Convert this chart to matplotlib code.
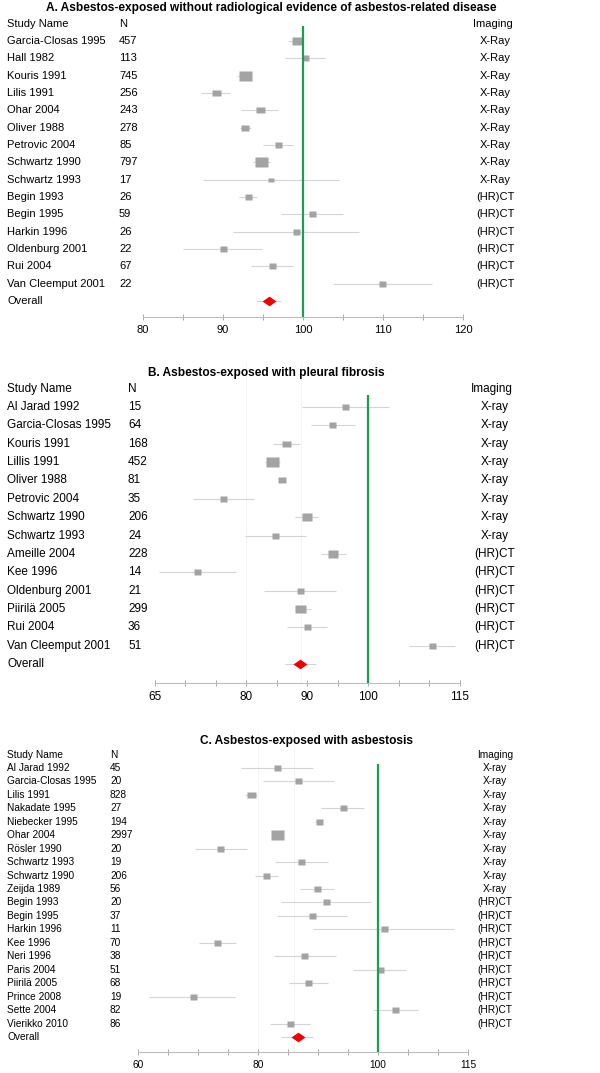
import matplotlib
matplotlib.use("Agg")
import matplotlib.pyplot as plt
from matplotlib.ticker import FixedLocator

plt.rcParams['font.family'] = ['Liberation Sans', 'DejaVu Sans']

# ---------- Panel A data ----------
a_names = ["Garcia-Closas 1995", "Hall 1982", "Kouris 1991", "Lilis 1991", "Ohar 2004",
           "Oliver 1988", "Petrovic 2004", "Schwartz 1990", "Schwartz 1993", "Begin 1993",
           "Begin 1995", "Harkin 1996", "Oldenburg 2001", "Rui 2004", "Van Cleemput 2001"]
a_n = [457, 113, 745, 256, 243, 278, 85, 797, 17, 26, 59, 26, 22, 67, 22]
a_imaging = ["X-Ray"] * 9 + ["(HR)CT"] * 6
a_est = [99.2, 100.2, 92.7, 89.1, 94.6, 92.8, 96.9, 94.8, 96.0, 93.1, 101.1, 99.1, 90.0, 96.1, 109.9]
a_lo = [98.1, 97.7, 91.8, 87.3, 92.3, 92.1, 95.0, 93.8, 87.5, 92.0, 97.3, 91.2, 85.0, 93.5, 103.7]
a_hi = [100.0, 102.7, 93.6, 90.9, 96.9, 93.5, 98.8, 95.9, 104.5, 94.3, 105.0, 107.0, 94.9, 98.7, 116.1]
a_weight = [10, 7, 13, 9, 9, 8, 7, 13, 6, 7, 7, 7, 7, 7, 7]
a_overall = (95.7, 94.1, 97.3)
a_ticks = [80, 90, 100, 110, 120]

# ---------- Panel B data ----------
b_names = ["Al Jarad 1992", "Garcia-Closas 1995", "Kouris 1991", "Lillis 1991", "Oliver 1988",
           "Petrovic 2004", "Schwartz 1990", "Schwartz 1993", "Ameille 2004", "Kee 1996",
           "Oldenburg 2001", "Piirilä 2005", "Rui 2004", "Van Cleemput 2001"]
b_n = [15, 64, 168, 452, 81, 35, 206, 24, 228, 14, 21, 299, 36, 51]
b_imaging = ["X-ray"] * 8 + ["(HR)CT"] * 6
b_est = [96.3, 94.1, 86.6, 84.2, 85.9, 76.3, 90.0, 84.7, 94.3, 72.0, 88.8, 88.9, 90.0, 110.5]
b_lo = [89.2, 90.7, 84.4, 83.1, 85.4, 71.3, 88.1, 79.8, 92.3, 65.7, 82.9, 88.0, 86.7, 106.8]
b_hi = [103.4, 97.8, 88.8, 85.5, 86.4, 81.3, 91.8, 89.9, 96.4, 78.3, 94.8, 90.7, 93.3, 114.2]
b_weight = [7, 7, 9, 13, 8, 7, 10, 7, 10, 7, 7, 11, 7, 7]
b_overall = (88.9, 86.4, 91.5)
b_ticks = [65, 80, 90, 100, 115]

# ---------- Panel C data ----------
c_names = ["Al Jarad 1992", "Garcia-Closas 1995", "Lilis 1991", "Nakadate 1995", "Niebecker 1995",
           "Ohar 2004", "Rösler 1990", "Schwartz 1993", "Schwartz 1990", "Zeijda 1989",
           "Begin 1993", "Begin 1995", "Harkin 1996", "Kee 1996", "Neri 1996", "Paris 2004",
           "Piirilä 2005", "Prince 2008", "Sette 2004", "Vierikko 2010"]
c_n = [45, 20, 828, 27, 194, 2997, 20, 19, 206, 56, 20, 37, 11, 70, 38, 51, 68, 19, 82, 86]
c_imaging = ["X-ray"] * 10 + ["(HR)CT"] * 10
c_est = [83.2, 86.7, 78.8, 94.1, 90.1, 83.1, 73.7, 87.2, 81.4, 89.8,
         91.3, 89.0, 101.0, 73.2, 87.7, 100.3, 88.4, 69.1, 102.9, 85.3]
c_lo = [77.2, 80.9, 77.8, 90.5, 89.5, 82.2, 69.5, 82.8, 79.5, 87.0,
        83.8, 83.1, 89.2, 70.2, 82.6, 95.9, 85.1, 61.8, 99.1, 82.0]
c_hi = [89.2, 92.6, 79.9, 97.7, 90.6, 84.2, 78.1, 91.6, 83.4, 92.7,
        98.8, 94.9, 112.7, 76.3, 93.0, 104.7, 91.7, 76.2, 106.6, 88.7]
c_weight = [7, 7, 9, 7, 7, 13, 7, 7, 7, 7, 7, 7, 7, 7, 7, 7, 7, 7, 7, 7]
c_overall = (86.6, 83.8, 89.2)
c_ticks = [60, 80, 100, 115]

W, H = 600, 1073
GREEN = '#1a9f4f'
RECT = [(-1, -0.72), (1, -0.72), (1, 0.72), (-1, 0.72), (-1, -0.72)]
DIAMOND = [(-1, 0), (0, -0.7), (1, 0), (0, 0.7), (-1, 0)]


def draw_panel(fig, title, names, ns, imaging, est, lo, hi, weight, overall, ticks,
               top_px, first_px, step_px, axis_px, ppu, x100_px, n_px, title_x, title_y,
               green_top, fs, tick_lo, tick_hi, faint=()):
    """One forest plot; the axes spans the full figure width so text columns sit in pixels."""
    ax = fig.add_axes([0, 1 - axis_px / H, 1, (axis_px - top_px) / H])
    ax.set_xlim(100 - x100_px / ppu, 100 + (W - x100_px) / ppu)

    def row(px):
        return (px - first_px) / step_px

    ax.set_ylim(row(axis_px), row(top_px))
    rows = list(range(len(names)))
    trans = ax.get_yaxis_transform()
    txt = dict(transform=trans, fontsize=fs, va='center')

    for v in faint:
        ax.axvline(v, color='#f2f2f2', lw=0.6, zorder=0)

    # confidence intervals and weighted squares
    ax.hlines(rows, lo, hi, color='#d4d4d4', lw=0.8, zorder=1)
    for r, e, w in zip(rows, est, weight):
        ax.plot(e, r, marker=RECT, ms=w * 0.72, color='#a3a3a3', mec='none', zorder=2)

    # overall diamond
    ro = len(names)
    ax.hlines(ro, overall[1], overall[2], color='#d4d4d4', lw=0.8, zorder=1)
    ax.plot(overall[0], ro, marker=DIAMOND, ms=10, color='#ee0000', mec='none', zorder=3)

    ax.vlines(100, row(green_top), row(axis_px), color=GREEN, lw=1.6, zorder=4)

    # text columns
    ax.text(7 / W, -1, "Study Name", ha='left', **txt)
    ax.text(n_px / W, -1, "N", ha='left', **txt)
    ax.text(513 / W, -1, "Imaging", ha='right', **txt)
    for r, name, n, im in zip(rows, names, ns, imaging):
        ax.text(7 / W, r, name, ha='left', **txt)
        ax.text(n_px / W, r, str(n), ha='left', **txt)
        ax.text(495 / W, r, im, ha='center', **txt)
    ax.text(7 / W, ro, "Overall", ha='left', **txt)

    ax.text(title_x / W, row(title_y), title, transform=trans, fontsize=8.6,
            fontweight='bold', va='center', ha='center', clip_on=False)

    # x axis
    for s in ('top', 'left', 'right'):
        ax.spines[s].set_visible(False)
    ax.spines['bottom'].set_bounds(tick_lo, tick_hi)
    ax.spines['bottom'].set_color('#bdbdbd')
    ax.spines['bottom'].set_linewidth(0.8)
    ax.set_yticks([])
    ax.xaxis.set_major_locator(FixedLocator(ticks))
    ax.xaxis.set_minor_locator(FixedLocator(list(range(tick_lo, tick_hi + 1, 5))))
    ax.tick_params(axis='x', which='both', direction='inout', length=4, width=0.6,
                   color='#9a9a9a', labelsize=fs, pad=4)
    ax.patch.set_visible(False)
    return ax


fig = plt.figure(figsize=(W / 100, H / 100), dpi=100)

draw_panel(fig, "A. Asbestos-exposed without radiological evidence of asbestos-related disease",
           a_names, a_n, a_imaging, a_est, a_lo, a_hi, a_weight, a_overall, a_ticks,
           top_px=0, first_px=41, step_px=17.33, axis_px=317, ppu=8.0, x100_px=303,
           n_px=119, title_x=271, title_y=8, green_top=26, fs=8.0, tick_lo=80, tick_hi=120)

draw_panel(fig, "B. Asbestos-exposed with pleural fibrosis",
           b_names, b_n, b_imaging, b_est, b_lo, b_hi, b_weight, b_overall, b_ticks,
           top_px=362, first_px=407, step_px=18.36, axis_px=683, ppu=6.1, x100_px=368,
           n_px=128, title_x=266, title_y=373, green_top=395, fs=8.5, tick_lo=65, tick_hi=115,
           faint=(80, 89))

draw_panel(fig, "C. Asbestos-exposed with asbestosis",
           c_names, c_n, c_imaging, c_est, c_lo, c_hi, c_weight, c_overall, c_ticks,
           top_px=730, first_px=768, step_px=13.45, axis_px=1052, ppu=6.0, x100_px=378,
           n_px=110, title_x=307, title_y=741, green_top=764, fs=7.3, tick_lo=60, tick_hi=115,
           faint=(80, 86))

fig.savefig("out.png", dpi=100)
